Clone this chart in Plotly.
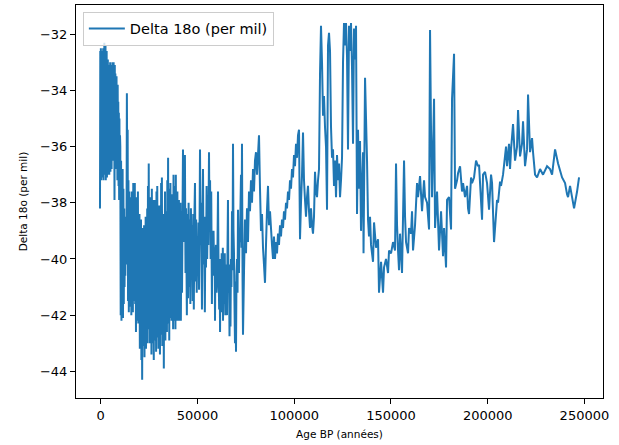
import plotly.graph_objects as go

# ---- data (age in years BP, delta 18O in per mil) ----
holo_age = [-400, -250, -100, 50, 200, 350, 500, 650, 800, 950,
            1100, 1250, 1400, 1550, 1700, 1850, 2000, 2150, 2300, 2450,
            2600, 2750, 2900, 3050, 3200, 3350, 3500, 3650, 3800, 3950,
            4100, 4250, 4400, 4550, 4700, 4850, 5000, 5150, 5300, 5450,
            5600, 5750, 5900, 6050, 6200, 6350, 6500, 6650, 6800, 6950,
            7100, 7250, 7400, 7550, 7700, 7850, 8000, 8150, 8300, 8450,
            8600, 8750, 8900, 9050, 9200, 9350, 9500, 9650, 9800, 9950]
holo_d18o = [-38.2, -32.6, -36.8, -32.5, -37.2, -32.8, -36.5, -32.6, -37.1, -33.2,
             -36.2, -32.5, -37.2, -32.9, -36.6, -32.3, -37.0, -32.7, -36.4, -32.4,
             -37.2, -33.0, -36.8, -32.6, -37.1, -33.2, -36.5, -32.9, -37.0, -33.4,
             -36.6, -33.1, -37.0, -33.3, -36.3, -33.0, -36.9, -33.5, -36.4, -33.1,
             -36.8, -33.6, -36.2, -33.0, -36.5, -33.3, -36.3, -33.0, -36.4, -33.5,
             -37.9, -33.1, -36.6, -33.4, -36.3, -33.7, -36.8, -33.5, -36.6, -34.0,
             -37.2, -33.8, -36.9, -34.4, -37.4, -34.8, -37.9, -35.0, -37.6, -35.6]

degl_age = [10100, 10300, 10500, 10700, 10900, 11100, 11300, 11500, 11700, 11900,
            12100, 12300, 12500, 12700, 12900, 13100, 13300, 13500, 13700, 13900,
            14100, 14300, 14500, 14700, 14900, 15100]
degl_d18o = [-36.0, -42.0, -36.5, -42.2, -37.2, -41.8, -36.8, -42.1, -37.5, -41.6,
             -38.2, -41.0, -38.8, -40.6, -38.5, -40.2, -39.6, -34.1, -37.6, -35.4,
             -41.5, -37.2, -41.9, -37.6, -41.7, -37.8]

glac_age = [15400, 15600, 15800, 16000, 16200, 16400, 16600, 16800, 17000, 17200,
            17400, 17600, 17800, 18000, 18200, 18400, 18600, 18800, 19000, 19200,
            19400, 19600, 19800, 20000, 20200, 20400, 20600, 20800, 21000, 21200,
            21400, 21600, 21800, 22000, 22200, 22400, 22600, 22800, 23000, 23200,
            23400, 23600, 23800, 24000, 24200, 24400, 24600, 24800, 25000, 25200,
            25400, 25600, 25800, 26000, 26200, 26400, 26600, 26800, 27000, 27200,
            27400, 27600, 27800, 28000, 28200, 28400, 28600, 28800, 29000, 29200,
            29400, 29600, 29800, 30000, 30200, 30400, 30600, 30800, 31000, 31200,
            31400, 31600, 31800, 32000, 32200, 32400, 32600, 32800, 33000, 33200,
            33400, 33600, 33800, 34000, 34200, 34400, 34600, 34800, 35000, 35200,
            35400, 35600, 35800, 36000, 36200, 36400, 36600, 36800, 37000, 37200,
            37400, 37600, 37800, 38000, 38200, 38400, 38600, 38800, 39000, 39200,
            39400, 39600, 39800, 40000, 40200, 40400, 40600, 40800, 41000, 41200]
glac_d18o = [-41.2, -37.8, -42.0, -37.6, -41.4, -38.2, -41.9, -37.3, -41.5, -37.8,
             -40.8, -37.3, -41.6, -38.0, -42.6, -37.8, -42.2, -38.4, -41.8, -37.6,
             -42.3, -38.9, -41.9, -38.4, -43.2, -39.2, -42.4, -38.6, -43.6, -39.6,
             -44.3, -38.9, -43.1, -39.5, -42.6, -38.8, -43.5, -39.4, -42.9, -38.5,
             -43.2, -39.0, -42.8, -38.2, -43.0, -37.4, -42.5, -36.6, -42.2, -38.0,
             -43.0, -37.8, -42.4, -38.5, -43.4, -37.5, -42.5, -38.6, -43.0, -37.9,
             -43.6, -38.3, -42.6, -37.9, -42.9, -38.8, -43.3, -37.6, -42.4, -37.4,
             -42.8, -38.7, -43.2, -38.1, -42.5, -39.0, -43.4, -38.1, -42.7, -37.3,
             -42.2, -37.1, -43.1, -38.4, -42.6, -38.9, -43.9, -38.4, -42.6, -37.6,
             -42.9, -38.3, -42.0, -39.0, -42.6, -37.2, -41.8, -36.4, -42.3, -37.5,
             -42.9, -38.0, -42.1, -37.3, -41.5, -38.4, -42.2, -37.7, -41.6, -38.2,
             -42.5, -37.0, -41.8, -38.6, -42.2, -37.4, -42.5, -37.0, -41.0, -38.2,
             -42.2, -37.6, -41.4, -38.5, -42.2, -37.9, -41.6, -38.3, -42.2, -38.0]

mis3_age = [41400, 41700, 42000, 42300, 42500, 42800, 43100, 43500, 43800, 44100,
            44500, 44800, 45100, 45400, 45700, 46000, 46300, 46600, 46900, 47200,
            47500, 47800, 48100, 48400, 48700, 49000, 49300, 49600, 49900, 50200,
            50500, 50800, 51000, 51300, 51600, 51900, 52300, 52600, 52850, 53100,
            53400, 53800, 54100, 54400, 54700, 55000, 55300, 55600, 55950, 56200,
            56500, 56800, 57100, 57450, 57700, 58000, 58300, 58600, 58900, 59050,
            59300, 59550, 59850, 60100, 60350, 60600, 60900, 61200, 61450, 61650,
            61900, 62200, 62500, 62800, 63100, 63200, 63500, 63800, 64100, 64400,
            64700, 65000, 65250, 65500, 65750, 66000, 66300, 66550, 66800, 67050,
            67300, 67550, 67830, 68100, 68350, 68600, 68860, 69100, 69380, 69650,
            69900, 70150, 70420, 70700, 70930, 71200, 71450, 71700, 71970, 72250,
            72480, 72750, 73000, 73300, 73520]
mis3_d18o = [-42.2, -38.3, -41.2, -38.0, -36.1, -39.4, -37.2, -36.3, -40.5, -38.2,
             -42.0, -38.4, -41.4, -38.0, -41.0, -38.6, -41.6, -38.2, -40.2, -38.8,
             -41.5, -38.4, -41.8, -38.5, -37.3, -40.8, -38.6, -41.2, -39.2, -40.6,
             -38.7, -41.1, -39.5, -36.1, -39.5, -38.0, -41.8, -38.4, -36.8, -40.2,
             -38.5, -41.9, -38.5, -40.3, -37.4, -40.0, -38.2, -39.5, -36.2, -38.8,
             -37.2, -40.0, -37.6, -41.6, -39.0, -40.6, -39.0, -40.5, -39.6, -42.2,
             -39.8, -39.5, -41.2, -40.8, -39.4, -37.6, -40.5, -41.8, -40.0, -42.6,
             -40.2, -41.9, -39.8, -41.5, -39.6, -42.2, -40.0, -41.6, -39.8, -42.0,
             -40.2, -41.5, -42.0, -39.8, -37.9, -41.2, -40.2, -42.75, -40.6, -42.4,
             -40.0, -41.0, -38.3, -40.4, -35.9, -39.0, -39.8, -41.5, -43.0, -40.8,
             -43.3, -40.6, -40.0, -41.2, -38.25, -40.1, -40.5, -38.9, -39.4, -38.0,
             -37.0, -39.6, -35.9, -40.8, -42.7]

mis4_age = [74030, 74550, 75070, 75590, 76100, 76620, 77140, 77650, 78170, 78690,
            79200, 79720, 80240, 80760, 81270, 81790, 82310, 82820, 83340, 83860,
            84370, 84890, 85410, 85930, 86440, 86960, 87480]
mis4_d18o = [-40.5, -38.6, -39.8, -38.2, -39.4, -37.6, -38.3, -37.2, -38.0, -36.8,
             -37.6, -36.5, -36.2, -37.0, -36.3, -35.6, -37.5, -39.0, -38.4, -39.6,
             -40.2, -40.85, -39.5, -38.25, -37.4, -38.8, -38.3]

mis5_age = [87990, 88510, 89030, 89540, 90060, 90580, 91100, 91610, 92130, 92650,
            93160, 93680, 94200, 94710, 95230, 95750, 96270, 96780, 97300, 97820,
            98330, 98850, 99370, 99880, 100400, 100920, 101440, 101950, 102470, 102990,
            103500, 104020, 104540, 105050, 105570, 106090, 106610, 107120, 107640, 108160,
            108670, 109190, 109710, 110220, 110740, 111260, 111780, 112290, 112810, 113330,
            113840, 114360, 114880, 115390, 115910, 116430, 116950, 117460, 117980, 118500,
            119010, 119530, 120050, 120560, 121080, 121600, 122120, 122630, 123150, 123670,
            124180, 124700, 125220, 125730, 126250, 126770, 127290, 127800, 128320, 128840,
            129350, 129870, 130390, 130900, 131420, 131940, 132460, 132970, 133490, 134010,
            134520, 135040, 135560, 135820, 136600, 137110, 137630, 138150, 138660, 139180,
            139700]
mis5_d18o = [-38.9, -39.5, -40.0, -39.2, -40.0, -39.4, -39.8, -39.1, -39.5, -38.8,
             -39.2, -38.6, -38.9, -38.3, -38.6, -38.0, -38.2, -37.6, -37.9, -37.2,
             -37.5, -36.8, -37.1, -36.3, -36.7, -35.9, -36.4, -35.6, -35.4, -39.3,
             -38.0, -37.0, -35.5, -37.2, -37.9, -38.5, -37.8, -37.4, -38.3, -38.9,
             -38.2, -38.8, -39.1, -38.5, -36.9, -37.6, -37.8, -37.2, -36.8, -33.4,
             -31.7, -33.0, -34.9, -34.2, -35.3, -36.0, -38.25, -32.4, -31.95, -32.6,
             -35.3, -36.4, -36.1, -37.4, -36.5, -37.8, -36.3, -37.2, -36.6, -37.8,
             -37.2, -36.4, -33.0, -31.6, -32.4, -31.6, -32.8, -36.1, -31.7, -32.6,
             -31.6, -33.2, -35.9, -31.8, -32.9, -31.7, -38.4, -35.4, -37.5, -35.8,
             -39.0, -37.4, -36.2, -39.8, -33.55, -35.0, -36.5, -38.6, -39.2, -38.5,
             -39.5]

mis6_age = [140730, 141250, 142280, 143320, 143830, 144870, 145900, 146420, 147450, 148490,
            149000, 150040, 151070, 152110, 152620, 153140, 153660, 154170, 154690, 155210,
            155720, 156760, 157280, 157790, 158830, 159340, 160380, 160890, 161410, 162440,
            163480, 164000, 165030, 166060, 167100, 167620, 168650, 169680, 170200, 170720,
            171240, 172270, 172790, 173820, 174850, 175890, 176920, 177440, 178470, 178990,
            180020, 181060, 181570, 182610, 183120, 184160, 184670, 185710, 186740, 187260,
            188290, 189330, 189840, 190360, 191390, 191910, 192940, 193980, 195010, 195530]
mis6_d18o = [-40.1, -38.7, -39.6, -39.3, -41.2, -40.1, -41.2, -40.3, -40.0, -40.5,
             -39.7, -39.8, -39.4, -39.7, -36.6, -38.8, -39.7, -40.4, -39.1, -39.8,
             -40.5, -36.5, -38.5, -39.4, -39.8, -38.9, -39.1, -38.3, -39.7, -38.8,
             -37.3, -37.8, -37.05, -38.3, -37.2, -37.8, -38.0, -38.95, -31.85, -35.5,
             -37.8, -34.3, -38.9, -37.6, -39.7, -38.3, -39.9, -38.9, -40.3, -37.9,
             -37.8, -38.95, -34.3, -32.7, -37.5, -37.2, -36.95, -36.7, -37.6, -37.3,
             -37.8, -37.4, -38.2, -38.4, -37.1, -37.3, -37.1, -36.5, -36.7, -36.65]

mis7_age = [197080, 197590, 198630, 199660, 200700, 201730, 202250, 203280, 204830, 205350,
            206380, 206900, 207930, 209480, 210000, 211030, 211550, 212070, 213100, 214130,
            215170, 215690, 216720, 217750, 218270, 219300, 220340, 220860, 221890, 222920,
            223440, 224480, 225510, 227060, 228610, 230680, 232230, 233270, 234820, 236370,
            238440, 239990, 241020, 241540, 242570, 243610, 244640, 246190, 247220]
mis7_d18o = [-38.6, -37.0, -36.9, -37.3, -38.25, -37.0, -37.3, -39.4, -37.9, -38.0,
             -37.25, -37.4, -37.0, -36.0, -36.7, -35.9, -36.8, -36.1, -35.2, -36.5,
             -36.0, -34.7, -36.35, -35.9, -35.1, -36.7, -36.1, -34.15, -36.2, -35.7,
             -36.2, -37.0, -37.1, -36.8, -37.0, -36.7, -36.8, -37.0, -36.1, -36.6,
             -37.1, -37.3, -37.7, -37.8, -37.4, -37.8, -38.2, -37.6, -37.1]

x_ticks = [0, 50000, 100000, 150000, 200000, 250000]
x_tick_labels = ["0", "50000", "100000", "150000", "200000", "250000"]
y_ticks = [-44, -42, -40, -38, -36, -34, -32]
y_tick_labels = ["\u221244", "\u221242", "\u221240", "\u221238", "\u221236", "\u221234", "\u221232"]

segments = [(holo_age, holo_d18o), (degl_age, degl_d18o), (glac_age, glac_d18o),
            (mis3_age, mis3_d18o), (mis4_age, mis4_d18o), (mis5_age, mis5_d18o),
            (mis6_age, mis6_d18o), (mis7_age, mis7_d18o)]
ages, d18o = [], []
for a, v in segments:
    assert len(a) == len(v), (len(a), len(v), a[0])
    ages += a
    d18o += v

FONT = "DejaVu Sans"

fig = go.Figure()
fig.add_trace(go.Scatter(
    x=ages, y=d18o, mode="lines", name="Delta 18o (per mil)",
    line=dict(color="#1f77b4", width=2, simplify=False),
    showlegend=True,
))

axis_common = dict(
    showgrid=False, zeroline=False,
    showline=True, linecolor="black", linewidth=1, mirror=True,
    ticks="outside", ticklen=5, tickwidth=1, tickcolor="black",
    tickfont=dict(family=FONT, size=13, color="black"),
    tickmode="array",
)

fig.update_layout(
    width=619, height=445,
    margin=dict(l=76, r=16, t=5, b=47),
    paper_bgcolor="white", plot_bgcolor="white",
    font=dict(family=FONT, color="black"),
    xaxis=dict(range=[-12800, 259600], tickvals=x_ticks, ticktext=x_tick_labels,
               title=dict(text="Age BP (années)", font=dict(family=FONT, size=10.5), standoff=9),
               **axis_common),
    yaxis=dict(range=[-44.95, -30.96], tickvals=y_ticks, ticktext=y_tick_labels,
               title=dict(text="Delta 18o (per mil)", font=dict(family=FONT, size=10.5), standoff=10),
               **axis_common),
    legend=dict(x=0.013, y=0.983, xanchor="left", yanchor="top",
                bgcolor="rgba(255,255,255,0.8)", bordercolor="#cccccc", borderwidth=1,
                font=dict(family=FONT, size=14.5, color="black"), itemwidth=36),
)

fig.write_html("out.html")
